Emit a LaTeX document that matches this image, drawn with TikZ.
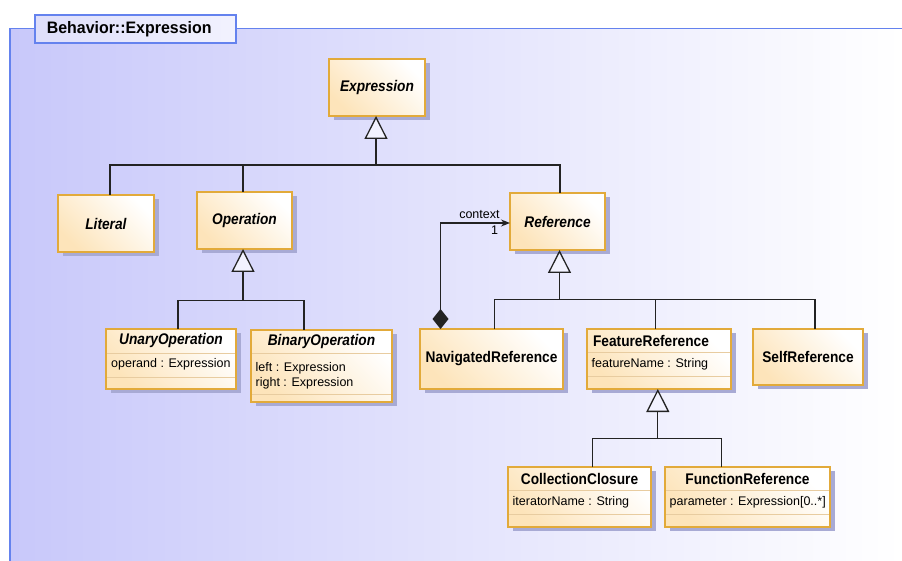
\documentclass[tikz,border=0pt]{standalone}
\usepackage{fontspec}
\setmainfont{Liberation Sans}
\newfontfamily\clsfam{Liberation Sans}[FakeStretch=0.89]
\newfontfamily\titlefam{Liberation Sans}[FakeStretch=0.96]
\usetikzlibrary{arrows.meta,shadows}

\definecolor{bgleft}{RGB}{200,200,250}
\definecolor{framec}{RGB}{100,130,238}
\definecolor{tableft}{RGB}{222,222,250}
\definecolor{tabright}{RGB}{242,242,254}
\definecolor{boxline}{RGB}{226,170,58}
\definecolor{boxfill}{RGB}{253,228,186}
\definecolor{sepline}{RGB}{232,204,160}
\definecolor{shadowc}{RGB}{168,170,212}
\definecolor{linec}{RGB}{35,35,35}
\definecolor{trifill}{RGB}{242,242,255}

\newcommand{\clsfont}{\clsfam\fontsize{15.4}{18}\selectfont\bfseries}
\newcommand{\attrfont}{\fontsize{12.5}{15}\selectfont}
\newcommand{\titlefont}{\titlefam\fontsize{16.6}{19}\selectfont\bfseries}

\begin{document}
\begin{tikzpicture}[x=1pt,y=-1pt,
    classbox/.style ={draw=boxline, line width=1.4pt, top color=white, bottom color=boxfill,
      shading angle=-45, inner sep=0pt, outer sep=0pt, anchor=north west, font=\clsfont,
      drop shadow={shadow xshift=5pt, shadow yshift=-4pt, fill=shadowc, opacity=1}},
    classname/.style ={font=\clsfont, inner sep=0pt},
    attr/.style ={font=\attrfont, inner sep=0pt, anchor=west, align=left},
    compsep/.style ={draw=sepline, line width=1pt},
    tree/.style ={draw=linec, line width=1.3pt},
    gen/.style ={tree, -{Triangle[length=23pt, width=23pt, fill=trifill]}},
    lbl/.style ={font=\attrfont, inner sep=2pt},
    tabbox/.style ={draw=framec, line width=1.6pt, left color=tableft, right color=tabright,
      anchor=north west, minimum height=28pt, text width=177pt, inner xsep=12pt,
      inner ysep=0pt, font=\titlefont, align=left}]
   \useasboundingbox (0,0) rectangle (902,561);
   % package frame
   \fill[left color=bgleft, right color=white] (10,28.7) rectangle (902,561);
   \draw[framec, line width=1.6pt] (10,561) -- (10,28.7) -- (902,28.7);
   \node[tabbox] (title) at (34,14.3) {Behavior::Expression};

   % classes
   \node[classbox, minimum width=96pt, minimum height=57pt] (expr) at (329,59) {\textit{Expression}};
   \node[classbox, minimum width=96pt, minimum height=57pt] (lit) at (58,195) {\textit{Literal}};
   \node[classbox, minimum width=95pt, minimum height=57pt] (op) at (197,192) {\textit{Operation}};
   \node[classbox, minimum width=95pt, minimum height=57pt] (ref) at (510,193) {\textit{Reference}};
   \node[classbox, minimum width=143pt, minimum height=60pt] (nav) at (420,329) {NavigatedReference};
   \node[classbox, minimum width=110pt, minimum height=56pt] (self) at (753,329) {SelfReference};

   \node[classbox, minimum width=130pt, minimum height=60pt] (unary) at (106,329) {};
   \node[classname] (unaryname) at ([yshift=-12pt]unary.north) {\textit{UnaryOperation}};
   \node[attr] (unaryattr) at ([xshift=5pt,yshift=-35pt]unary.north west) {operand : Expression};

   \node[classbox, minimum width=141pt, minimum height=72pt] (binary) at (251,330) {};
   \node[classname] (binaryname) at ([yshift=-12pt]binary.north) {\textit{BinaryOperation}};
   \node[attr] (binaryattr) at ([xshift=4.5pt,yshift=-45.5pt]binary.north west) {left : Expression\\right : Expression};

   \node[classbox, minimum width=144pt, minimum height=60pt] (feat) at (587,329) {};
   \node[classname] (featname) at ([xshift=-8pt,yshift=-12pt]feat.north) {FeatureReference};
   \node[attr] (featattr) at ([xshift=4.5pt,yshift=-35pt]feat.north west) {featureName : String};

   \node[classbox, minimum width=143pt, minimum height=60pt] (coll) at (508,467) {};
   \node[classname] (collname) at ([yshift=-12pt]coll.north) {CollectionClosure};
   \node[attr] (collattr) at ([xshift=4.5pt,yshift=-35pt]coll.north west) {iteratorName : String};

   \node[classbox, minimum width=165pt, minimum height=60pt] (func) at (665,467) {};
   \node[classname] (funcname) at ([yshift=-12pt]func.north) {FunctionReference};
   \node[attr] (funcattr) at ([xshift=4.5pt,yshift=-35pt]func.north west) {parameter : Expression[0..*]};

   % compartment separators
   \foreach \b/\h/\k in {unary/24/48, binary/23/64, feat/23.5/47.5, coll/23.5/47, func/23.5/47} {
     \draw[compsep] ([xshift=1pt,yshift=-\h pt]\b.north west) -- ([xshift=-1pt,yshift=-\h pt]\b.north east);
     \draw[compsep] ([xshift=1pt,yshift=-\k pt]\b.north west) -- ([xshift=-1pt,yshift=-\k pt]\b.north east);
   }

   % generalizations
   \coordinate (j1) at (376,165);
   \coordinate (j2) at (243,300.7);
   \coordinate (j3) at (559.5,299.3);
   \coordinate (j4) at (657.8,438.3);
   \draw[tree] ([xshift=4pt]lit.north) |- (j1) -| ([xshift=2.5pt]ref.north);
   \draw[tree] (op.north -| j2) |- (j1);
   \draw[gen] (j1) -- (j1 |- expr.south);
   \draw[tree] ([xshift=7pt]unary.north) |- (j2) -| ([xshift=-17.5pt]binary.north);
   \draw[gen] (j2) -- (j2 |- op.south);
   \draw[tree] ([xshift=3pt]nav.north) |- (j3) -| ([xshift=7pt]self.north);
   \draw[tree] ([xshift=-3.3pt]feat.north) |- (j3);
   \draw[gen] (j3) -- (j3 |- ref.south);
   \draw[tree] ([xshift=13pt]coll.north) |- (j4) -| ([xshift=-26pt]func.north);
   \draw[gen] (j4) -- (j4 |- feat.south);

   % composition
   \draw[tree, {Diamond[length=20pt, width=16pt]}-{Stealth[length=9pt, width=7pt]}]
     ([xshift=-51pt]nav.north) |- ([yshift=-1.5pt]ref.west)
     node[lbl, above, pos=0.78, yshift=2pt] (ctxlabel) {context}
     node[lbl, below, pos=0.89] (ctxmult) {1};
 \end{tikzpicture}
\end{document}
